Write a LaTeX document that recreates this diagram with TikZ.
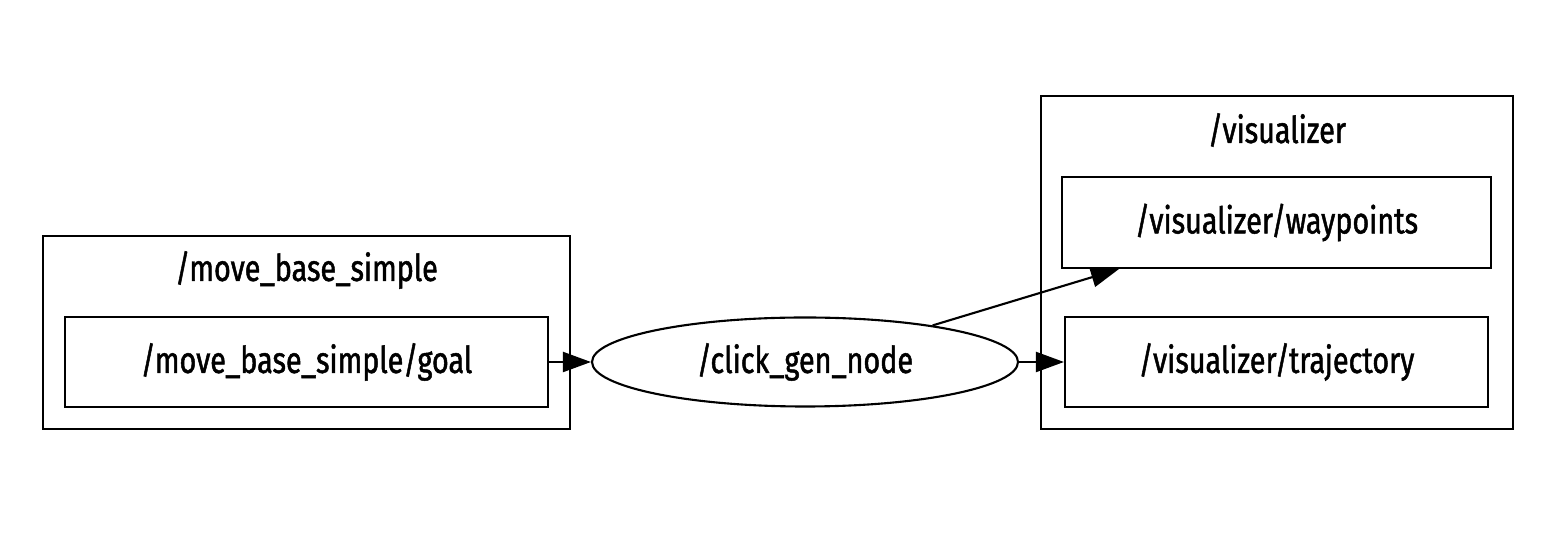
\documentclass[tikz,border=0pt]{standalone}
\usepackage{fontspec}
\setmainfont{Fira Sans}[FakeStretch=0.78,FakeBold=1.3]
\usetikzlibrary{arrows.meta, shapes.geometric}

\begin{document}
\begin{tikzpicture}[
    box/.style={draw,line width=0.6pt,inner sep=0pt},
    lbl/.style={font=\fontsize{10.5}{12}\selectfont},
    conn/.style={line width=0.6pt,-{Triangle[length=0.28cm,width=0.2cm]}}
]
\useasboundingbox (0,0) rectangle (15.65,5.43);
            \node[box,minimum width=5.27cm,minimum height=1.93cm] (mbs) at (3.065,2.105){};
            \node[lbl] (mbstitle) at (3.065,2.73){/move\_base\_simple};
            \node[box,lbl,minimum width=4.83cm,minimum height=0.9cm] (goal) at (3.065,1.81){/move\_base\_simple/goal};
            \node[box,lbl,ellipse,minimum width=4.26cm,minimum height=0.89cm] (click) at (8.05,1.81){/click\_gen\_node};
            \node[box,minimum width=4.72cm,minimum height=3.33cm] (viz) at (12.77,2.805){};
            \node[lbl] (viztitle) at (12.77,4.13){/visualizer};
            \node[box,lbl,minimum width=4.29cm,minimum height=0.91cm] (way) at (12.765,3.205){/visualizer/waypoints};
            \node[box,lbl,minimum width=4.23cm,minimum height=0.9cm] (traj) at (12.765,1.81){/visualizer/trajectory};
            \draw[conn] (goal.east)--(click.west);
            \draw[conn] (click.east)--(traj.west);
            \draw[conn] (click.16)--([xshift=0.58cm]way.south west);
        \end{tikzpicture}
\end{document}
